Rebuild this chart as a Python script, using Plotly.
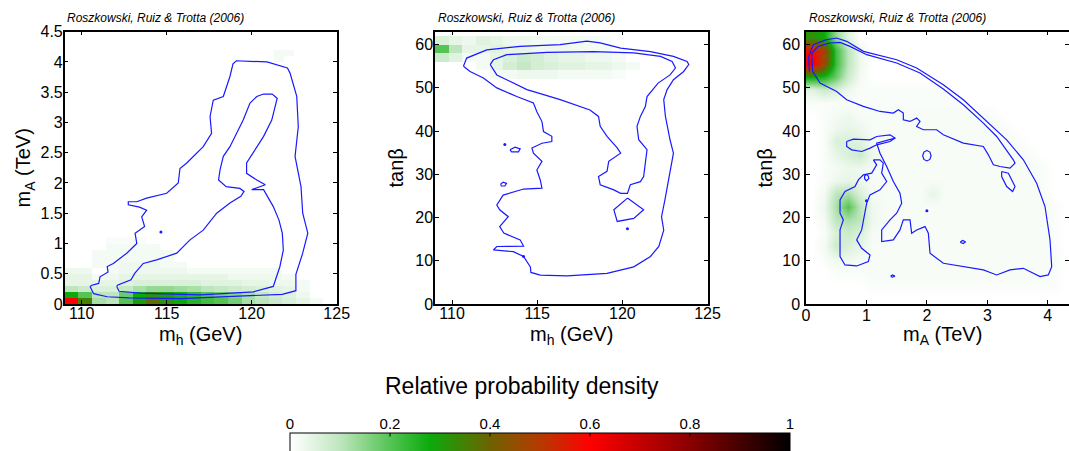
import plotly.graph_objects as go

W, H = 1069, 451

# ---------------- data ----------------
# Panel 1: m_h (GeV) vs m_A (TeV) density
p1_x = [109.4,110.2,111.0,111.8,112.6,113.4,114.2,115.0,115.8,116.6,117.4,118.2,119.0,119.8,120.6,121.4,122.2,123.0,123.8,124.6]
p1_y = [0.05,0.15,0.25,0.35,0.45,0.55,0.65,0.75,0.85,0.95,1.05]
p1_z = [
 [0.60,0.35,0.12,0.10,0.20,0.30,0.38,0.32,0.28,0.25,0.22,0.20,0.17,0.12,0.10,0.08,0.06,0.04,0.02,0],
 [0.28,0.20,0.10,0.10,0.18,0.28,0.32,0.30,0.27,0.24,0.20,0.17,0.15,0.12,0.09,0.07,0.05,0.03,0,0],
 [0.10,0.08,0.06,0.06,0.09,0.12,0.14,0.14,0.13,0.12,0.10,0.09,0.08,0.07,0.06,0.05,0.04,0.02,0,0],
 [0.04,0.04,0.04,0.04,0.05,0.06,0.06,0.06,0.06,0.06,0.05,0.05,0.05,0.04,0.04,0.03,0.03,0.02,0,0],
 [0.04,0.04,0.02,0.03,0.04,0.04,0.04,0.04,0.04,0.04,0.04,0.04,0.03,0.03,0.03,0.03,0.02,0,0,0],
 [0.03,0.03,0,0.02,0.03,0.03,0.03,0.03,0.03,0.02,0.02,0.02,0.02,0.02,0.02,0.02,0,0,0,0],
 [0,0,0.02,0.02,0.03,0.03,0.03,0.02,0.02,0,0,0,0,0,0,0,0,0,0,0],
 [0,0,0.02,0.02,0.02,0.02,0.02,0.02,0,0,0,0,0,0,0,0,0,0,0,0],
 [0,0,0.02,0.02,0.02,0.02,0.02,0.02,0,0,0,0,0,0,0,0,0,0,0,0],
 [0,0,0,0.02,0.02,0.02,0.02,0,0,0,0,0,0,0,0,0,0,0,0,0],
 [0,0,0,0.01,0.01,0.01,0,0,0,0,0,0,0,0,0,0,0,0,0,0],
]
p1_patch_x = [121.6, 122.2]
p1_patch_y = [4.05, 4.15]
p1_patch_z = [[0.02, 0], [0.02, 0.02]]

# Panel 2: m_h (GeV) vs tan(beta) density
p2_x = p1_x
p2_y = [53, 55, 57, 59, 61]
p2_z = [
 [0,0,0,0,0.02,0.02,0.03,0.03,0.03,0.02,0.02,0.02,0.02,0.01,0,0,0,0,0,0],
 [0,0,0,0.02,0.04,0.07,0.09,0.07,0.06,0.05,0.05,0.04,0.04,0.03,0.02,0,0,0,0,0],
 [0.08,0.05,0.02,0.02,0.04,0.06,0.08,0.07,0.05,0.04,0.04,0.03,0.03,0.02,0,0,0,0,0,0],
 [0.20,0.10,0.04,0.04,0.05,0.04,0.04,0.03,0.03,0.03,0.02,0.02,0.02,0,0,0,0,0,0,0],
 [0.06,0.04,0.03,0.05,0.04,0.03,0.03,0.02,0.02,0.02,0.02,0.02,0.01,0,0,0,0,0,0,0],
]

# Panel 3: m_A (TeV) vs tan(beta) density
p3_x = [0.1,0.3,0.5,0.7,0.9,1.1,1.3,1.5,1.7,1.9,2.1,2.3,2.5,2.7,2.9,3.1,3.3,3.5,3.7,3.9,4.1,4.3]
p3_y = [1.5,4.5,7.5,10.5,13.5,16.5,19.5,22.5,25.5,28.5,31.5,34.5,37.5,40.5,43.5,46.5,49.5,52.5,55.5,58.5,61.5]
p3_z = [
 [0,0,0,0,0,0,0,0,0,0,0,0,0,0,0,0,0,0,0,0,0,0],
 [0,0,0,0,0,.01,.01,.01,.01,.01,.01,.01,.01,.01,.01,.01,.01,.01,.01,.01,.01,0],
 [0,0,.01,.01,.01,.015,.015,.015,.015,.015,.015,.015,.015,.015,.015,.015,.015,.015,.015,.015,.01,0],
 [0,.01,.03,.03,.02,.015,.015,.015,.015,.015,.015,.015,.015,.015,.015,.015,.015,.015,.015,.015,.015,0],
 [0,.02,.08,.06,.04,.015,.015,.015,.015,.015,.015,.015,.015,.015,.015,.015,.015,.015,.015,.015,.01,0],
 [0,.01,.06,.08,.06,.02,.015,.015,.015,.015,.015,.015,.015,.015,.015,.015,.015,.015,.015,.015,.01,0],
 [0,.02,.10,.12,.10,.03,.015,.015,.015,.015,.015,.015,.015,.015,.015,.015,.015,.015,.015,.015,.01,0],
 [0,.03,.12,.20,.10,.03,.015,.015,.015,.015,.015,.015,.015,.015,.015,.015,.015,.015,.015,.015,.01,0],
 [0,.02,.10,.12,.06,.02,.015,.015,.015,.015,.04,.015,.015,.015,.015,.015,.015,.015,.015,.015,0,0],
 [0,.01,.03,.04,.03,.015,.015,.015,.015,.015,.015,.015,.015,.015,.015,.015,.015,.015,.015,.01,0,0],
 [0,.01,.02,.03,.03,.02,.015,.015,.015,.015,.015,.015,.015,.015,.015,.015,.015,.015,.015,.01,0,0],
 [0,.01,.04,.06,.08,.03,.015,.015,.015,.015,.015,.015,.015,.015,.015,.015,.015,.015,.01,0,0,0],
 [0,.01,.06,.06,.05,.02,.015,.015,.015,.015,.015,.015,.015,.015,.015,.015,.015,.01,0,0,0,0],
 [0,.01,.03,.04,.03,.015,.015,.015,.015,.015,.015,.015,.015,.015,.015,.015,.01,0,0,0,0,0],
 [0,.01,.02,.03,.015,.015,.015,.015,.015,.015,.015,.015,.015,.015,.015,.01,0,0,0,0,0,0],
 [.01,.01,.01,.01,.01,.01,.01,.01,.01,.01,.01,.01,.01,0,0,0,0,0,0,0,0,0],
 [.05,.08,.06,.03,.01,.01,.01,.01,.01,.01,.01,.01,0,0,0,0,0,0,0,0,0,0],
 [.28,.26,.18,.08,.02,0,0,0,0,0,0,0,0,0,0,0,0,0,0,0,0,0],
 [.62,.46,.22,.10,.03,0,0,0,0,0,0,0,0,0,0,0,0,0,0,0,0,0],
 [.58,.48,.22,.10,.03,0,0,0,0,0,0,0,0,0,0,0,0,0,0,0,0,0],
 [.32,.28,.14,.05,0,0,0,0,0,0,0,0,0,0,0,0,0,0,0,0,0,0],
]

# Contours (x, y) ------------------------------------------------
p1_outer = [(110.49,0.29),(110.7,0.17),(111.5,0.12),(112.8,0.10),(115.8,0.09),(118.7,0.12),(121.8,0.16),
 (122.6,0.22),(122.6,0.49),(123.0,0.84),(123.3,1.17),(123.0,1.5),(122.9,1.94),(122.55,2.44),(122.74,2.93),
 (122.65,3.43),(122.25,3.82),(122.1,3.9),(120.9,4.0),(119.1,4.02),(118.9,3.97),(118.72,3.76),(118.5,3.57),
 (118.33,3.43),(117.74,3.37),(117.55,3.1),(117.64,2.82),(117.15,2.6),(116.18,2.33),(115.78,2.24),(115.68,2.0),
 (115.0,1.83),(113.82,1.75),(113.24,1.69),(112.74,1.69),(112.74,1.64),(113.4,1.60),(113.82,1.55),(113.53,1.44),
 (113.7,1.28),(113.14,1.17),(113.24,1.0),(112.65,0.84),(111.86,0.67),(111.5,0.62),(111.55,0.53),(111.08,0.45),
 (111.0,0.34),(110.6,0.31),(110.49,0.29)]
p1_inner = [(112.06,0.29),(112.2,0.21),(113.43,0.18),(116.96,0.15),(120.1,0.2),(121.27,0.29),(121.66,0.62),
 (121.86,0.89),(121.8,1.17),(121.6,1.39),(121.27,1.61),(120.9,1.78),(120.7,1.89),(120.0,1.89),(120.8,1.97),
 (120.3,2.05),(119.7,2.16),(119.7,2.33),(120.3,2.6),(120.7,2.77),(121.18,3.04),(121.4,3.27),(121.5,3.4),
 (121.2,3.47),(120.7,3.47),(120.3,3.43),(119.9,3.32),(119.5,3.04),(119.12,2.82),(118.72,2.6),(118.33,2.44),
 (118.14,2.22),(118.05,2.05),(118.5,1.94),(119.3,1.91),(119.55,1.86),(119.36,1.78),(118.72,1.67),(117.94,1.5),
 (117.15,1.22),(116.37,1.06),(115.59,0.84),(114.41,0.73),(113.62,0.67),(113.13,0.51),(112.9,0.4),(112.1,0.31),
 (112.06,0.29)]
p1_dots = [(114.66,1.19)]

p2_outer = [(110.67,55.0),(110.86,56.9),(112.04,58.8),(114.0,59.6),(116.35,60.0),(117.92,60.8),(118.7,60.4),
 (119.9,59.2),(121.65,58.4),(123.0,57.3),(123.8,56.1),(123.9,55.4),(123.6,53.8),(123.0,51.9),(122.63,49.6),
 (122.43,47.3),(122.53,43.4),(122.8,38.0),(123.0,34.9),(122.8,30.3),(122.5,24.1),(122.3,20.2),(122.43,17.1),
 (122.14,13.3),(121.65,11.0),(120.67,8.6),(119.1,7.1),(116.75,6.5),(115.18,6.7),(114.63,7.3),(114.6,8.6),
 (114.2,11.0),(113.6,12.1),(112.43,12.5),(112.63,13.3),(114.2,13.4),(114.0,14.8),(113.04,16.4),(112.8,17.9),
 (113.3,20.2),(112.8,21.8),(112.63,22.9),(113.0,25.2),(114.2,26.6),(115.28,26.8),(115.18,28.7),(114.98,31.0),
 (115.28,33.0),(114.78,34.9),(114.69,36.1),(115.28,37.2),(115.86,37.6),(115.86,38.8),(115.37,39.9),(115.28,42.2),
 (114.98,44.5),(114.78,46.5),(113.8,48.0),(112.63,50.0),(111.84,52.3),(111.06,53.8),(110.67,55.0)]
p2_inner = [(112.24,55.4),(112.43,56.5),(113.22,57.7),(115.57,58.2),(118.31,58.4),(120.67,58.1),(122.24,57.3),
 (122.92,56.1),(123.12,54.6),(122.8,53.0),(122.1,51.1),(121.45,48.0),(121.35,45.7),(121.06,43.4),(120.86,41.1),
 (120.96,38.0),(121.45,35.7),(121.35,32.6),(121.25,29.5),(121.06,28.3),(120.47,27.6),(120.3,25.6),(119.9,25.6),
 (119.5,26.4),(118.7,27.6),(118.6,29.5),(119.1,30.7),(119.2,33.0),(119.9,34.9),(119.7,36.1),(119.1,38.8),
 (118.7,41.1),(118.6,43.4),(118.1,44.9),(116.35,47.3),(114.4,49.6),(113.4,51.5),(112.63,53.0),(112.24,55.4)]
p2_loop_a = [(120.3,24.5),(121.25,21.8),(120.67,19.8),(119.7,19.1),(119.5,21.8),(120.3,24.5)]
p2_loop_b = [(113.4,35.7),(113.7,36.3),(114.0,35.9),(113.9,35.2),(113.5,35.2),(113.4,35.7)]
p2_loop_c = [(112.85,27.7),(113.0,28.2),(113.2,27.9),(113.1,27.3),(112.9,27.3),(112.85,27.7)]
p2_dots = [(113.1,36.9),(120.3,17.4),(114.2,11.0)]

p3_outer = [(0.055,53.82),(0.044,57.29),(0.121,60.0),(0.342,61.15),(0.507,61.54),(0.673,60.77),(0.949,58.45),
 (1.5,56.52),(1.831,54.59),(2.272,50.73),(2.603,47.26),(2.934,43.01),(3.32,37.99),(3.596,33.36),(3.816,27.95),
 (3.954,22.55),(4.037,14.83),(4.065,8.65),(4.009,6.72),(3.872,6.33),(3.596,8.26),(3.375,7.88),(3.155,6.72),
 (2.934,7.88),(2.603,8.65),(2.272,9.42),(2.052,11.74),(2.024,16.37),(1.969,17.91),(1.831,17.14),(1.748,16.37),
 (1.721,19.46),(1.61,19.46),(1.555,17.14),(1.445,14.83),(1.252,14.44),(1.252,17.14),(1.39,19.46),(1.5,21.0),
 (1.583,23.32),(1.555,25.64),(1.445,28.34),(1.335,31.81),(1.224,34.9),(1.169,37.22),(1.39,37.99),(1.473,38.38)]
p3_inner = [(0.11,53.82),(0.094,58.07),(0.204,59.61),(0.397,60.38),(0.563,60.54),(0.728,59.61),(1.004,57.68),
 (1.5,55.75),(1.886,53.43),(2.272,49.73),(2.603,46.1),(2.934,41.85),(3.155,38.76),(3.32,35.67),(3.43,33.36),
 (3.458,32.58),(3.375,31.43),(3.21,31.81),(3.1,32.2),(3.017,34.51),(2.934,36.45),(2.603,37.22),(2.272,39.15),
 (2.162,40.31),(1.941,40.31),(1.831,41.08),(1.886,42.24),(1.831,43.01),(1.721,42.24),(1.61,42.62),(1.61,44.17),
 (1.528,44.94),(1.445,44.17),(1.224,44.55),(0.949,45.71),(0.673,47.26),(0.507,49.18),(0.232,51.12),(0.11,53.82)]
p3_tongue = [(0.673,37.6),(0.783,38.14),(1.059,37.99),(1.169,38.76),(1.39,39.15),(1.473,38.38),(1.39,37.6),
 (1.169,36.83),(1.059,36.06),(0.921,35.29),(0.756,35.67),(0.673,36.45),(0.673,37.6)]
p3_lobe = [(1.114,33.36),(1.169,32.2),(1.087,30.27),(0.949,29.88),(0.866,28.72),(0.811,27.18),(0.645,26.02),
 (0.563,24.09),(0.563,21.0),(0.618,19.46),(0.563,17.14),(0.563,14.05),(0.563,10.96),(0.645,9.03),(0.838,8.8),
 (1.031,9.81),(1.059,11.35),(0.921,12.9),(0.838,14.83),(0.921,17.14),(0.949,19.46),(0.976,21.0),(1.004,23.32),
 (1.059,25.25),(1.224,26.41),(1.335,28.34),(1.252,30.27),(1.279,32.58),(1.224,33.36),(1.114,33.36)]
p3_loop_a = [(2.0,35.5),(2.05,35.15),(2.07,34.3),(2.05,33.45),(2.0,33.1),(1.95,33.45),(1.93,34.3),(1.95,35.15),(2.0,35.5)]
p3_loop_b = [(1.0,30.0),(1.03,29.6),(1.04,29.0),(1.0,28.5),(0.97,29.0),(0.97,29.6),(1.0,30.0)]
p3_loop_c = [(3.237,30.65),(3.348,30.27),(3.458,27.18),(3.419,26.02),(3.32,27.18),(3.237,29.5),(3.237,30.65)]
p3_loop_d = [(2.55,14.3),(2.59,14.7),(2.64,14.4),(2.6,14.0),(2.55,14.3)]
p3_loop_e = [(1.40,6.4),(1.43,6.7),(1.47,6.45),(1.43,6.2),(1.40,6.4)]
p3_dots = [(1.0,23.9),(2.0,21.6)]

cbar_ticks = [0, 0.2, 0.4, 0.6, 0.8, 1]
credit = "Roszkowski, Ruiz & Trotta (2006)"
xtitles = ['m<sub>h</sub> (GeV)', 'm<sub>h</sub> (GeV)', 'm<sub>A</sub> (TeV)']

# ---------------- styling ----------------
colorscale = [[0.0,'#FFFFFF'],[0.03,'#EEF8EE'],[0.1,'#BEE6BE'],[0.2,'#55C455'],[0.28,'#0BAA0B'],
              [0.4,'#6E6200'],[0.5,'#B53A00'],[0.6,'#FF0000'],[0.8,'#8A0000'],[1.0,'#000000']]
FONT = "Liberation Sans, Arial, sans-serif"
BLUE = '#1a1aff'

def px_x(p): return p / W
def px_y(p): return 1 - p / H

CB_L, CB_R, CB_TOP = 290, 790, 433

fig = go.Figure()

def add_lines(pts_list, xa, ya):
    xs, ys = [], []
    for pts in pts_list:
        xs += [p[0] for p in pts] + [None]
        ys += [p[1] for p in pts] + [None]
    fig.add_trace(go.Scatter(x=xs, y=ys, mode='lines', line=dict(color=BLUE, width=1.2),
                             xaxis=xa, yaxis=ya, hoverinfo='skip', showlegend=False))

def add_dots(pts, xa, ya):
    fig.add_trace(go.Scatter(x=[p[0] for p in pts], y=[p[1] for p in pts], mode='markers',
                             marker=dict(color=BLUE, size=3), xaxis=xa, yaxis=ya,
                             hoverinfo='skip', showlegend=False))

fig.add_trace(go.Heatmap(x=p1_x, y=p1_y, z=p1_z, coloraxis='coloraxis', xaxis='x', yaxis='y'))
fig.add_trace(go.Heatmap(x=p1_patch_x, y=p1_patch_y, z=p1_patch_z, coloraxis='coloraxis', xaxis='x', yaxis='y'))
fig.add_trace(go.Heatmap(x=p2_x, y=p2_y, z=p2_z, coloraxis='coloraxis', xaxis='x2', yaxis='y2'))
fig.add_trace(go.Heatmap(x=p3_x, y=p3_y, z=p3_z, coloraxis='coloraxis', xaxis='x3', yaxis='y3', zsmooth='best'))

add_lines([p1_outer, p1_inner], 'x', 'y')
add_dots(p1_dots, 'x', 'y')
add_lines([p2_outer, p2_inner, p2_loop_a, p2_loop_b, p2_loop_c], 'x2', 'y2')
add_dots(p2_dots, 'x2', 'y2')
add_lines([p3_outer, p3_inner, p3_tongue, p3_lobe, p3_loop_a, p3_loop_b, p3_loop_c, p3_loop_d, p3_loop_e], 'x3', 'y3')
add_dots(p3_dots, 'x3', 'y3')

ydom = [px_y(304), px_y(31.7)]
axis_common = dict(showline=True, linecolor='black', linewidth=1.5, mirror='ticks', ticks='inside',
                   ticklen=4, tickcolor='black', showgrid=False, zeroline=False,
                   tickfont=dict(family=FONT, size=16, color='black'))
xcommon = dict(axis_common, ticklabelstandoff=-6)
ycommon = dict(axis_common, ticklabelstandoff=-3)
x3common = dict(axis_common, ticklabelstandoff=-4)
y3common = dict(axis_common, ticklabelstandoff=1)
TFONT = dict(family=FONT, size=20, color='black')

fig.update_layout(
    width=W, height=H, margin=dict(l=0, r=0, t=0, b=0, autoexpand=False),
    paper_bgcolor='white', plot_bgcolor='white',
    font=dict(family=FONT, color='black'),
    coloraxis=dict(colorscale=colorscale, cmin=0, cmax=1,
        colorbar=dict(orientation='h', x=px_x((CB_L + CB_R) / 2), xanchor='center',
                      len=(CB_R - CB_L) / W, lenmode='fraction',
                      y=px_y(CB_TOP), yanchor='top', thickness=24, outlinecolor='black', outlinewidth=1,
                      tickvals=cbar_ticks, showticklabels=False, ticks='', xpad=0, ypad=0)),
    xaxis=dict(domain=[px_x(64.7), px_x(336.7)], range=[109, 125], tickvals=[110,115,120,125],
               anchor='y', **xcommon),
    yaxis=dict(domain=ydom, range=[0, 4.5], tickvals=[0,0.5,1,1.5,2,2.5,3,3.5,4,4.5],
               ticktext=['0','0.5','1','1.5','2','2.5','3','3.5','4','4.5'], anchor='x',
               title=dict(text='m<sub>A</sub> (TeV)', font=TFONT, standoff=4), **ycommon),
    xaxis2=dict(domain=[px_x(435), px_x(707.5)], range=[109, 125], tickvals=[110,115,120,125],
               anchor='y2', **xcommon),
    yaxis2=dict(domain=ydom, range=[0, 63], tickvals=[0,10,20,30,40,50,60], anchor='x2',
               title=dict(text='tanβ', font=TFONT, standoff=6), **ycommon),
    xaxis3=dict(domain=[px_x(806), 1.0], range=[0, 4.5*(W-806)/272], tickvals=[0,1,2,3,4],
               anchor='y3', **x3common),
    yaxis3=dict(domain=ydom, range=[0, 63], tickvals=[0,10,20,30,40,50,60], anchor='x3',
               title=dict(text='tanβ', font=TFONT, standoff=4), **y3common),
    # axis carrying the colour-bar labels on top of the bar
    xaxis4=dict(domain=[px_x(CB_L), px_x(CB_R)], range=[0, 1], anchor='y4', side='top',
                tickvals=cbar_ticks, ticktext=[f"{v:g}" for v in cbar_ticks], ticks='',
                showline=False, showgrid=False, zeroline=False,
                tickfont=dict(family=FONT, size=15, color='black')),
    yaxis4=dict(domain=[0, px_y(CB_TOP)], range=[0, 1], anchor='x4', visible=False),
)

# x-axis titles (centred on each full axis box)
for xc, t in zip([200, 571, 942], xtitles):
    fig.add_annotation(x=px_x(xc), y=px_y(335), xref='paper', yref='paper', text=t, showarrow=False,
                       xanchor='center', yanchor='middle', font=TFONT)

for xp in [65, 436, 807]:
    fig.add_annotation(x=px_x(xp), y=px_y(18), xref='paper', yref='paper', text='<i>' + credit + '</i>',
                       showarrow=False, xanchor='left', yanchor='middle',
                       font=dict(family=FONT, size=12, color='black'))

# tick marks inside the colour bar (drawn above the bar)
for v in cbar_ticks[1:-1]:
    fig.add_annotation(x=v, y=1, xref='x4', yref='y4', text='', showarrow=True, arrowhead=0,
                       arrowwidth=1, arrowcolor='black', ax=0, ay=5, standoff=0, startstandoff=0)

fig.add_annotation(x=px_x(522), y=px_y(386), xref='paper', yref='paper',
                   text='Relative probability density', showarrow=False, xanchor='center', yanchor='middle',
                   font=dict(family=FONT, size=23, color='black'))

fig.write_html("out.html")
